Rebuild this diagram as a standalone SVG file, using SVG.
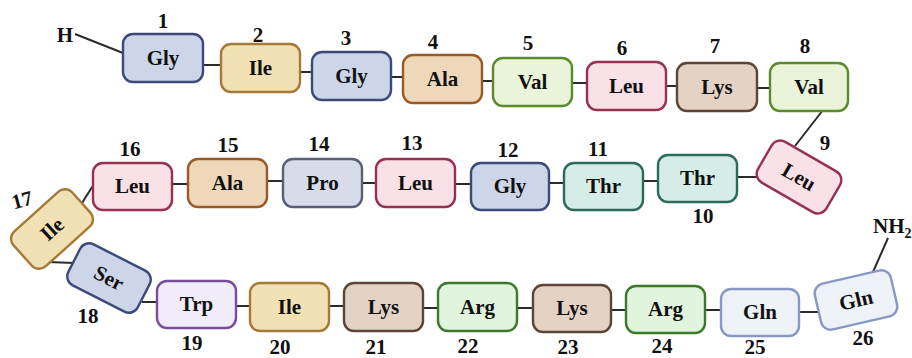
<svg xmlns="http://www.w3.org/2000/svg" width="912" height="358" viewBox="0 0 912 358">
  <style>
    text { fill: #111; font-family: "Liberation Serif", "Times New Roman", serif; font-weight: bold; font-size: 21px; }
    .name, .num { text-anchor: middle; }
    .box { stroke-width: 2.4; }
    .link line { stroke: #2a2a2a; stroke-width: 2; }
    .gly .box, .ser .box { fill: #cdd5e8; stroke: #3b4a78; }
    .ile .box { fill: #f1e1b4; stroke: #a67a36; }
    .ala .box { fill: #efd8b9; stroke: #985a27; }
    .val .box { fill: #e9f4d9; stroke: #5b8a2f; }
    .leu .box { fill: #fae1e7; stroke: #963152; }
    .lys .box { fill: #e4d3c5; stroke: #5d4535; }
    .thr .box { fill: #d6ede7; stroke: #2b6b5b; }
    .pro .box { fill: #d8dcea; stroke: #596075; }
    .trp .box { fill: #f1ecfa; stroke: #7a4c9c; }
    .arg .box { fill: #e1f4dd; stroke: #3b7a2b; }
    .gln .box { fill: #eef3fa; stroke: #8898c2; }
  </style>

  <!-- peptide bonds -->
  <g id="connectors" class="link">
    <line x1="75" y1="34" x2="123" y2="53"/>
    <line x1="203" y1="65" x2="221" y2="65"/>
    <line x1="300" y1="72" x2="312" y2="72"/>
    <line x1="391" y1="77" x2="403" y2="77"/>
    <line x1="482" y1="81" x2="493" y2="81"/>
    <line x1="572" y1="83" x2="587" y2="83"/>
    <line x1="666" y1="86" x2="677" y2="86"/>
    <line x1="757" y1="88" x2="770" y2="88"/>
    <line x1="823" y1="110" x2="795" y2="146"/>
    <line x1="737" y1="177" x2="760" y2="177"/>
    <line x1="643" y1="181" x2="658" y2="181"/>
    <line x1="549" y1="183" x2="564" y2="183"/>
    <line x1="455" y1="184" x2="471" y2="184"/>
    <line x1="362" y1="183" x2="376" y2="183"/>
    <line x1="267" y1="181" x2="283" y2="181"/>
    <line x1="172" y1="184" x2="188" y2="184"/>
    <line x1="82" y1="203" x2="94" y2="184"/>
    <line x1="48" y1="262" x2="74" y2="263"/>
    <line x1="142" y1="302" x2="157" y2="302"/>
    <line x1="236" y1="306" x2="250" y2="306"/>
    <line x1="329" y1="306" x2="344" y2="306"/>
    <line x1="423" y1="308" x2="438" y2="308"/>
    <line x1="517" y1="308" x2="533" y2="308"/>
    <line x1="611" y1="310" x2="626" y2="310"/>
    <line x1="705" y1="310" x2="721" y2="310"/>
    <line x1="799" y1="312" x2="818" y2="312"/>
    <line x1="873" y1="272" x2="888" y2="238"/>
  </g>

  <!-- terminal groups -->
  <text id="n-term" x="65" y="42" text-anchor="middle">H</text>
  <text id="c-term" x="873" y="233">NH<tspan font-size="14" dy="5">2</tspan></text>

  <!-- residues -->
  <g id="r1" class="gly"><rect class="box" x="123" y="34" width="80" height="48" rx="10"/><text class="name" x="163" y="65">Gly</text><text class="num" x="163" y="28">1</text></g>
  <g id="r2" class="ile"><rect class="box" x="221" y="44" width="79" height="48" rx="10"/><text class="name" x="260.5" y="75">Ile</text><text class="num" x="258" y="42">2</text></g>
  <g id="r3" class="gly"><rect class="box" x="312" y="52" width="79" height="48" rx="10"/><text class="name" x="351.5" y="83">Gly</text><text class="num" x="346" y="45">3</text></g>
  <g id="r4" class="ala"><rect class="box" x="403" y="55" width="79" height="48" rx="10"/><text class="name" x="442.5" y="86">Ala</text><text class="num" x="433" y="49">4</text></g>
  <g id="r5" class="val"><rect class="box" x="493" y="58" width="79" height="48" rx="10"/><text class="name" x="532.5" y="89">Val</text><text class="num" x="528" y="50">5</text></g>
  <g id="r6" class="leu"><rect class="box" x="587" y="62" width="79" height="48" rx="10"/><text class="name" x="626.5" y="93">Leu</text><text class="num" x="622" y="55">6</text></g>
  <g id="r7" class="lys"><rect class="box" x="677" y="63" width="80" height="48" rx="10"/><text class="name" x="717" y="94">Lys</text><text class="num" x="715" y="53">7</text></g>
  <g id="r8" class="val"><rect class="box" x="770" y="63" width="78" height="48" rx="10"/><text class="name" x="809" y="94">Val</text><text class="num" x="805" y="53">8</text></g>
  <g id="r9" class="leu"><g transform="rotate(30 799 177)"><rect class="box" x="759.5" y="153.5" width="79" height="47" rx="10"/><text class="name" x="799" y="184">Leu</text></g><text class="num" x="825" y="150">9</text></g>
  <g id="r10" class="thr"><rect class="box" x="658" y="155" width="79" height="47" rx="10"/><text class="name" x="697.5" y="185">Thr</text><text class="num" x="703" y="223">10</text></g>
  <g id="r11" class="thr"><rect class="box" x="564" y="163" width="79" height="47" rx="10"/><text class="name" x="603.5" y="193">Thr</text><text class="num" x="598" y="156">11</text></g>
  <g id="r12" class="gly"><rect class="box" x="471" y="163" width="78" height="47" rx="10"/><text class="name" x="510" y="193">Gly</text><text class="num" x="508" y="157">12</text></g>
  <g id="r13" class="leu"><rect class="box" x="376" y="159" width="79" height="48" rx="10"/><text class="name" x="415.5" y="190">Leu</text><text class="num" x="412" y="150">13</text></g>
  <g id="r14" class="pro"><rect class="box" x="283" y="159" width="79" height="48" rx="10"/><text class="name" x="322.5" y="190">Pro</text><text class="num" x="319" y="151">14</text></g>
  <g id="r15" class="ala"><rect class="box" x="188" y="159" width="79" height="48" rx="10"/><text class="name" x="227.5" y="190">Ala</text><text class="num" x="228" y="152">15</text></g>
  <g id="r16" class="leu"><rect class="box" x="93" y="163" width="79" height="47" rx="10"/><text class="name" x="132.5" y="193">Leu</text><text class="num" x="130" y="156">16</text></g>
  <g id="r17" class="ile"><g transform="rotate(-42 52 229)"><rect class="box" x="12.5" y="205.5" width="79" height="47" rx="10"/><text class="name" x="52" y="236">Ile</text></g><text class="num" x="22" y="207" transform="rotate(-15 22 200)">17</text></g>
  <g id="r18" class="ser"><g transform="rotate(27 109 278)"><rect class="box" x="70" y="255" width="78" height="46" rx="10"/><text class="name" x="109" y="285">Ser</text></g><text class="num" x="88" y="323">18</text></g>
  <g id="r19" class="trp"><rect class="box" x="157" y="281" width="79" height="47" rx="10"/><text class="name" x="196.5" y="311">Trp</text><text class="num" x="192" y="350">19</text></g>
  <g id="r20" class="ile"><rect class="box" x="250" y="283" width="79" height="48" rx="10"/><text class="name" x="289.5" y="314">Ile</text><text class="num" x="280" y="354">20</text></g>
  <g id="r21" class="lys"><rect class="box" x="344" y="283" width="79" height="48" rx="10"/><text class="name" x="383.5" y="314">Lys</text><text class="num" x="376" y="354">21</text></g>
  <g id="r22" class="arg"><rect class="box" x="438" y="283" width="79" height="48" rx="10"/><text class="name" x="477.5" y="314">Arg</text><text class="num" x="468" y="353">22</text></g>
  <g id="r23" class="lys"><rect class="box" x="533" y="285" width="78" height="47" rx="10"/><text class="name" x="572" y="315">Lys</text><text class="num" x="568" y="354">23</text></g>
  <g id="r24" class="arg"><rect class="box" x="626" y="286" width="79" height="47" rx="10"/><text class="name" x="665.5" y="316">Arg</text><text class="num" x="662" y="353">24</text></g>
  <g id="r25" class="gln"><rect class="box" x="721" y="289" width="78" height="47" rx="10"/><text class="name" x="760" y="319">Gln</text><text class="num" x="755" y="354">25</text></g>
  <g id="r26" class="gln"><g transform="rotate(-13 856 300)"><rect class="box" x="817" y="276.5" width="78" height="47" rx="10"/><text class="name" x="856" y="307">Gln</text></g><text class="num" x="863" y="345">26</text></g>
</svg>
